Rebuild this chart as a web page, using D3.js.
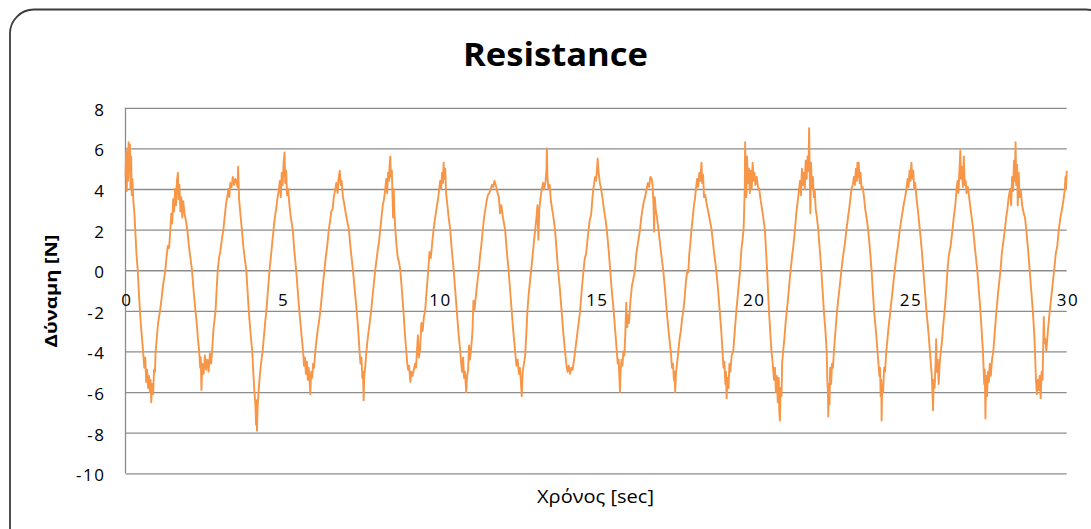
<!DOCTYPE html>
<html>
<head>
<meta charset="utf-8">
<script src="https://cdn.jsdelivr.net/npm/d3@7"></script>
<style>
  html, body { margin: 0; padding: 0; background: #fff; }
  svg { display: block; }
  text { font-family: "Open Sans", "Noto Sans", sans-serif; fill: #000; }
</style>
</head>
<body>
<svg id="chart" width="1091" height="529"></svg>
<script>
// ---- data ----
const chartTitle = "Resistance";
const xTitle = "Χρόνος [sec]";
const yTitle = "Δύναμη [N]";
const xTickValues = [0, 5, 10, 15, 20, 25, 30];
const yTickValues = [-10, -8, -6, -4, -2, 0, 2, 4, 6, 8];
// [time (sec), force (N)]
const forceSamples = [
[0,4.6],[0.02,5.8],[0.04,3.9],[0.06,6.0],[0.08,4.4],[0.10,6.3],[0.12,4.8],[0.14,6.2],[0.16,4.0],[0.18,5.6],[0.20,3.7],[0.22,4.5],[0.25,3.4],[0.28,2.9],[0.31,2.0],[0.35,0.8],[0.39,0.0],[0.43,-1.2],[0.46,-2.0],[0.50,-2.9],[0.53,-3.4],[0.56,-4.0],[0.60,-4.8],[0.63,-4.3],[0.66,-5.5],[0.69,-4.9],[0.72,-5.8],[0.75,-5.2],[0.78,-6.0],[0.80,-5.4],[0.82,-6.5],[0.85,-5.6],[0.88,-6.1],[0.91,-4.9],[0.94,-5.0],[0.96,-4.0],[1.00,-3.3],[1.04,-2.6],[1.08,-2.2],[1.10,-2.0],[1.15,-1.4],[1.20,-0.7],[1.24,-0.3],[1.27,0.0],[1.31,0.7],[1.35,1.2],[1.39,1.1],[1.43,2.0],[1.46,2.8],[1.49,2.3],[1.52,3.5],[1.55,2.9],[1.58,4.0],[1.61,3.2],[1.64,4.4],[1.67,4.8],[1.69,3.5],[1.72,4.2],[1.75,2.9],[1.78,3.6],[1.81,2.6],[1.84,3.4],[1.88,2.8],[1.93,2.4],[1.97,2.0],
[2.02,1.2],[2.07,0.6],[2.12,0.0],[2.17,-1.0],[2.23,-2.0],[2.27,-2.6],[2.31,-3.4],[2.35,-4.0],[2.38,-4.8],[2.40,-4.3],[2.42,-5.9],[2.45,-4.6],[2.49,-5.1],[2.53,-4.2],[2.57,-4.9],[2.61,-4.4],[2.65,-5.0],[2.69,-4.1],[2.73,-4.6],[2.76,-4.0],[2.80,-3.0],[2.84,-2.4],[2.87,-2.0],[2.90,-1.1],[2.94,0.0],[2.98,0.6],[3.02,0.9],[3.07,1.5],[3.12,2.0],[3.16,2.6],[3.20,3.2],[3.24,3.6],[3.28,4.0],[3.31,3.6],[3.34,4.3],[3.38,4.1],[3.42,4.6],[3.46,4.2],[3.50,4.5],[3.54,4.3],[3.57,4.1],[3.59,5.1],[3.62,3.5],[3.66,2.8],[3.71,2.0],[3.76,1.1],[3.80,0.6],[3.85,0.0],[3.89,-1.0],[3.93,-2.0],[3.97,-2.8],
[4.01,-3.5],[4.04,-4.0],[4.08,-5.2],[4.11,-6.0],[4.14,-6.6],[4.16,-7.6],[4.18,-6.4],[4.19,-7.9],[4.21,-6.8],[4.24,-6.0],[4.28,-5.2],[4.32,-4.6],[4.37,-4.0],[4.41,-3.3],[4.45,-2.6],[4.49,-2.0],[4.54,-1.0],[4.59,0.0],[4.63,0.6],[4.68,1.4],[4.72,2.0],[4.76,2.6],[4.80,3.0],[4.84,3.5],[4.89,4.0],[4.92,4.4],[4.95,3.6],[4.98,4.8],[5.01,4.2],[5.04,5.3],[5.07,5.8],[5.09,4.3],[5.12,4.9],[5.15,3.7],[5.18,4.0],[5.22,3.3],[5.27,2.6],[5.33,2.0],[5.38,1.0],[5.44,0.0],[5.49,-1.0],[5.54,-2.0],[5.60,-3.0],[5.66,-4.0],[5.69,-4.7],[5.72,-4.3],[5.75,-5.1],[5.78,-4.5],[5.81,-5.4],[5.84,-4.8],[5.87,-5.5],[5.89,-6.1],[5.92,-5.0],[5.95,-5.3],[5.98,-4.6],
[6.01,-4.8],[6.05,-4.0],[6.09,-3.4],[6.13,-2.9],[6.17,-2.5],[6.21,-2.0],[6.25,-1.4],[6.30,-0.6],[6.34,0.0],[6.38,0.6],[6.43,1.2],[6.48,2.0],[6.52,2.4],[6.56,2.9],[6.60,3.0],[6.64,3.6],[6.69,4.0],[6.72,4.3],[6.76,3.8],[6.79,4.5],[6.83,4.9],[6.86,4.2],[6.89,4.4],[6.93,3.6],[6.97,3.3],[7.02,2.8],[7.07,2.4],[7.12,2.0],[7.18,1.0],[7.25,0.0],[7.31,-1.0],[7.37,-2.0],[7.42,-3.0],[7.46,-4.0],[7.49,-4.6],[7.52,-4.3],[7.55,-5.3],[7.57,-5.0],[7.59,-6.4],[7.61,-5.2],[7.64,-4.8],[7.67,-4.2],[7.71,-3.5],[7.75,-3.0],[7.79,-2.5],[7.83,-2.0],[7.88,-1.2],[7.92,-0.6],[7.96,0.0],
[8.00,0.5],[8.04,1.0],[8.08,1.4],[8.12,2.0],[8.16,2.6],[8.20,3.2],[8.24,3.5],[8.28,4.0],[8.31,4.5],[8.34,3.8],[8.37,4.8],[8.40,4.4],[8.42,5.2],[8.44,5.6],[8.46,4.6],[8.49,4.9],[8.51,3.7],[8.53,2.6],[8.55,4.0],[8.57,2.9],[8.60,2.0],[8.64,1.2],[8.68,0.6],[8.72,0.4],[8.76,0.0],[8.81,-1.0],[8.86,-2.0],[8.90,-3.0],[8.95,-4.0],[8.98,-4.6],[9.01,-4.9],[9.04,-4.7],[9.08,-5.5],[9.11,-5.0],[9.15,-5.2],[9.19,-4.9],[9.23,-4.6],[9.26,-4.8],[9.29,-4.0],[9.32,-3.2],[9.35,-4.3],[9.39,-3.9],[9.43,-2.6],[9.47,-3.0],[9.51,-2.3],[9.55,-2.0],[9.60,-1.0],[9.65,0.0],[9.69,0.9],[9.73,0.6],[9.78,1.4],[9.82,2.0],[9.86,2.5],[9.90,2.9],[9.94,3.3],[9.97,3.6],
[10.00,4.0],[10.03,4.4],[10.06,4.0],[10.09,4.8],[10.12,4.3],[10.14,5.3],[10.16,4.5],[10.19,5.0],[10.22,3.8],[10.26,3.2],[10.30,2.6],[10.35,2.0],[10.40,1.0],[10.46,0.0],[10.51,-1.0],[10.56,-2.0],[10.61,-3.0],[10.67,-4.0],[10.70,-4.6],[10.73,-5.0],[10.76,-4.3],[10.79,-5.3],[10.82,-5.0],[10.86,-6.0],[10.89,-5.2],[10.92,-4.9],[10.95,-3.7],[10.98,-4.4],[11.02,-3.8],[11.06,-3.0],[11.09,-1.5],[11.12,-2.0],[11.16,-1.4],[11.20,-0.8],[11.26,0.0],[11.30,0.7],[11.34,1.2],[11.39,2.0],[11.43,2.6],[11.47,3.0],[11.51,3.4],[11.55,3.7],[11.60,3.8],[11.64,4.0],[11.68,4.2],[11.72,4.1],[11.76,4.4],[11.78,4.3],[11.82,4.1],[11.86,3.8],[11.90,3.6],[11.94,2.8],[11.98,3.2],
[12.03,2.6],[12.10,2.0],[12.15,1.0],[12.21,0.0],[12.26,-1.0],[12.31,-2.0],[12.36,-3.0],[12.42,-4.0],[12.46,-4.7],[12.50,-4.4],[12.54,-5.1],[12.57,-4.8],[12.60,-5.4],[12.63,-6.2],[12.66,-5.0],[12.70,-4.6],[12.74,-4.2],[12.78,-3.0],[12.81,-2.0],[12.85,-1.2],[12.89,-0.6],[12.93,0.0],[12.97,0.6],[13.01,1.3],[13.06,2.0],[13.10,2.6],[13.13,3.2],[13.16,1.5],[13.19,3.0],[13.23,3.6],[13.27,4.0],[13.31,4.3],[13.35,4.0],[13.39,4.4],[13.42,5.0],[13.43,6.0],[13.45,4.6],[13.48,4.0],[13.52,4.2],[13.56,3.4],[13.60,3.0],[13.64,2.6],[13.69,2.0],[13.74,1.0],[13.79,0.0],[13.85,-1.0],[13.90,-2.0],[13.95,-3.0],
[14.01,-4.0],[14.05,-4.6],[14.09,-5.0],[14.13,-4.7],[14.17,-5.1],[14.21,-4.8],[14.25,-4.9],[14.29,-4.5],[14.33,-4.0],[14.37,-3.5],[14.41,-3.0],[14.45,-2.5],[14.49,-2.0],[14.54,-1.0],[14.60,0.0],[14.64,0.6],[14.68,0.8],[14.72,1.4],[14.76,2.0],[14.80,2.5],[14.84,2.7],[14.88,3.5],[14.91,4.0],[14.94,4.3],[14.97,4.6],[15.00,4.4],[15.03,5.0],[15.05,5.5],[15.08,4.8],[15.12,4.3],[15.16,4.0],[15.20,3.6],[15.25,3.0],[15.30,2.5],[15.34,2.0],[15.40,1.0],[15.45,0.0],[15.50,-1.0],[15.56,-2.0],[15.61,-3.0],[15.66,-4.0],[15.69,-4.6],[15.72,-4.4],[15.74,-5.2],[15.76,-6.0],[15.78,-5.0],[15.81,-4.4],[15.84,-4.7],[15.87,-4.0],[15.90,-4.2],[15.93,-3.2],[15.96,-1.6],[15.99,-2.8],
[16.02,-2.2],[16.05,-2.6],[16.09,-1.6],[16.14,-0.8],[16.19,-0.4],[16.24,0.0],[16.28,0.8],[16.32,1.2],[16.36,1.6],[16.40,2.0],[16.44,2.6],[16.48,3.0],[16.52,3.4],[16.56,3.6],[16.61,4.0],[16.65,4.3],[16.69,4.1],[16.73,4.6],[16.77,4.5],[16.80,4.2],[16.83,3.2],[16.85,1.9],[16.87,3.6],[16.90,3.0],[16.94,2.6],[16.99,2.0],[17.06,1.0],[17.14,0.0],[17.20,-1.0],[17.25,-2.0],[17.31,-3.0],[17.38,-4.0],[17.42,-4.8],[17.45,-4.6],[17.48,-5.4],[17.50,-5.0],[17.52,-6.0],[17.55,-5.0],[17.58,-4.6],[17.62,-4.0],[17.66,-3.4],[17.70,-3.0],[17.74,-2.4],[17.78,-2.0],[17.82,-1.4],[17.86,-0.6],[17.91,0.0],[17.94,-0.1],[17.97,0.8],
[18.01,1.4],[18.04,2.0],[18.08,2.6],[18.12,3.2],[18.15,3.5],[18.18,4.0],[18.22,4.5],[18.25,4.1],[18.29,4.8],[18.32,4.4],[18.36,5.3],[18.38,4.3],[18.41,4.7],[18.44,3.6],[18.48,3.7],[18.52,3.3],[18.56,3.0],[18.61,2.6],[18.68,2.0],[18.75,1.0],[18.83,0.0],[18.89,-1.0],[18.94,-2.0],[18.99,-3.0],[19.03,-4.0],[19.06,-4.8],[19.09,-4.5],[19.12,-5.6],[19.14,-5.0],[19.16,-6.3],[19.19,-5.3],[19.22,-5.8],[19.25,-4.6],[19.28,-5.0],[19.32,-4.2],[19.37,-4.0],[19.42,-3.0],[19.47,-2.0],[19.53,-1.0],[19.59,0.0],[19.63,1.0],[19.66,1.4],[19.70,2.0],[19.72,3.0],[19.74,4.2],[19.75,6.3],[19.77,4.5],[19.79,3.6],[19.81,5.6],[19.84,4.3],[19.87,5.0],[19.90,3.8],[19.93,4.9],[19.96,4.0],[19.99,5.3],
[20.02,4.4],[20.05,4.8],[20.08,4.2],[20.12,4.6],[20.16,4.1],[20.20,4.0],[20.25,3.4],[20.31,2.8],[20.38,2.0],[20.45,0.0],[20.51,-2.0],[20.55,-3.0],[20.59,-4.0],[20.63,-4.6],[20.67,-5.4],[20.70,-4.8],[20.73,-6.0],[20.76,-5.2],[20.79,-6.5],[20.82,-5.3],[20.84,-7.0],[20.86,-7.4],[20.88,-5.8],[20.91,-6.2],[20.93,-4.6],[20.96,-4.0],[21.00,-3.4],[21.04,-2.6],[21.08,-2.0],[21.14,-1.0],[21.20,0.0],[21.24,0.6],[21.28,1.1],[21.34,2.0],[21.38,2.8],[21.42,3.3],[21.47,4.0],[21.50,4.4],[21.53,3.7],[21.56,5.0],[21.59,4.2],[21.62,4.8],[21.65,4.0],[21.68,5.4],[21.71,4.5],[21.74,5.6],[21.77,4.9],[21.79,7.0],[21.81,4.6],[21.83,2.8],[21.85,5.3],[21.88,4.0],[21.91,4.6],[21.94,3.6],[21.97,3.9],
[22.00,3.0],[22.04,2.6],[22.08,2.0],[22.13,1.0],[22.18,0.0],[22.22,-1.0],[22.26,-2.0],[22.31,-3.0],[22.35,-4.0],[22.37,-5.4],[22.39,-6.0],[22.40,-7.2],[22.42,-5.6],[22.44,-6.6],[22.46,-4.8],[22.49,-5.6],[22.52,-4.6],[22.55,-4.8],[22.58,-4.0],[22.62,-3.2],[22.68,-2.0],[22.75,-1.0],[22.82,0.0],[22.87,0.7],[22.92,1.2],[22.98,2.0],[23.03,2.6],[23.08,3.2],[23.14,4.0],[23.18,4.2],[23.22,4.6],[23.25,4.2],[23.28,5.0],[23.31,4.4],[23.33,5.3],[23.35,4.6],[23.37,5.3],[23.40,4.3],[23.43,4.8],[23.46,4.0],[23.50,4.1],[23.54,3.6],[23.58,3.0],[23.62,2.6],[23.67,2.0],[23.73,1.0],[23.78,0.0],[23.82,-1.0],[23.86,-2.0],[23.92,-3.0],[23.97,-4.0],
[24.00,-4.6],[24.03,-5.2],[24.05,-4.8],[24.07,-6.2],[24.09,-5.4],[24.10,-7.4],[24.12,-5.6],[24.15,-6.0],[24.18,-4.8],[24.21,-5.0],[24.25,-4.0],[24.31,-3.0],[24.38,-2.0],[24.45,-1.0],[24.52,0.0],[24.57,0.7],[24.62,1.2],[24.68,2.0],[24.74,2.6],[24.80,3.2],[24.85,3.6],[24.89,4.0],[24.93,4.5],[24.96,4.1],[24.99,4.9],[25.02,4.4],[25.05,5.3],[25.08,4.5],[25.11,4.9],[25.14,4.0],[25.17,4.3],[25.21,3.6],[25.26,2.9],[25.32,2.0],[25.38,1.0],[25.43,0.0],[25.48,-1.0],[25.53,-2.0],[25.59,-3.0],[25.64,-4.0],[25.67,-4.6],[25.70,-5.2],[25.72,-6.0],[25.74,-6.9],[25.76,-5.4],[25.79,-5.8],[25.82,-4.6],[25.84,-3.4],[25.86,-5.0],[25.89,-4.4],[25.92,-5.6],[25.95,-4.6],[25.99,-4.0],
[26.03,-3.4],[26.07,-2.6],[26.11,-2.0],[26.16,-1.0],[26.20,0.0],[26.24,0.7],[26.30,1.2],[26.36,2.0],[26.40,2.6],[26.45,3.2],[26.49,4.0],[26.52,4.4],[26.55,3.8],[26.58,4.9],[26.61,5.9],[26.63,4.5],[26.66,5.1],[26.69,4.1],[26.72,5.6],[26.75,4.2],[26.78,4.4],[26.81,3.8],[26.85,4.1],[26.89,3.6],[26.93,3.1],[26.97,2.6],[27.02,2.0],[27.08,1.0],[27.15,0.0],[27.20,-1.0],[27.25,-2.0],[27.29,-3.0],[27.33,-4.0],[27.35,-4.8],[27.37,-5.6],[27.39,-4.9],[27.41,-7.3],[27.43,-5.2],[27.46,-6.2],[27.49,-5.0],[27.52,-5.5],[27.55,-4.6],[27.58,-5.2],[27.62,-4.4],[27.66,-4.0],[27.71,-3.0],[27.76,-2.0],[27.82,-1.0],[27.89,0.0],[27.93,0.8],[27.98,1.4],
[28.03,2.0],[28.07,2.6],[28.11,3.0],[28.15,3.6],[28.20,4.0],[28.23,3.2],[28.26,4.6],[28.29,3.9],[28.32,5.4],[28.35,4.4],[28.37,6.3],[28.39,4.2],[28.42,5.2],[28.44,3.2],[28.47,4.8],[28.50,3.6],[28.54,3.9],[28.58,3.2],[28.63,2.8],[28.67,2.6],[28.71,2.0],[28.77,1.0],[28.82,0.0],[28.87,-1.0],[28.92,-2.0],[28.96,-3.0],[28.99,-4.0],[29.02,-5.4],[29.05,-6.1],[29.08,-5.4],[29.11,-5.9],[29.14,-5.2],[29.17,-6.3],[29.20,-5.0],[29.23,-5.4],[29.25,-3.8],[29.27,-2.3],[29.29,-3.6],[29.32,-3.4],[29.35,-4.0],[29.40,-3.0],[29.46,-2.0],[29.53,-1.0],[29.60,0.0],[29.65,0.8],[29.70,1.2],[29.75,2.0],[29.80,2.6],[29.85,3.0],[29.90,3.5],[29.94,4.0],[29.96,4.6],[29.98,4.0],[30.00,4.9]
];

// ---- drawing ----
const svg = d3.select("#chart");
const plotLeft = 125.5, plotRight = 1066.7, plotTop = 107.8, plotBottom = 473.3;

const x = d3.scaleLinear().domain([0, 30]).range([plotLeft, plotRight]);
const y = d3.scaleLinear().domain([-10, 8]).range([plotBottom, plotTop]);
const plainNumber = d => String(d); // hyphen-minus like the reference

// outer rounded frame (extends past the right/bottom of the view)
svg.append("rect")
  .attr("x", 10).attr("y", 9.5)
  .attr("width", 1100).attr("height", 545)
  .attr("rx", 24).attr("ry", 24)
  .attr("fill", "#fff")
  .attr("stroke", "#3c3c3c")
  .attr("stroke-width", 1.8);

// title
svg.append("text")
  .attr("x", 555.5).attr("y", 66)
  .attr("text-anchor", "middle")
  .attr("font-size", 33).attr("font-weight", 700)
  .attr("textLength", 185).attr("lengthAdjust", "spacingAndGlyphs")
  .text(chartTitle);

// horizontal gridlines
const grid = svg.append("g")
  .attr("transform", `translate(${plotLeft},0)`)
  .call(d3.axisLeft(y).tickValues(yTickValues).tickSize(-(plotRight - plotLeft)).tickFormat(""));
grid.select(".domain").remove();
grid.selectAll(".tick line").attr("stroke", "#8c8c8c").attr("stroke-width", 1.3);

// y axis line
svg.append("line")
  .attr("x1", plotLeft).attr("x2", plotLeft)
  .attr("y1", y(8)).attr("y2", y(-10))
  .attr("stroke", "#8c8c8c").attr("stroke-width", 1.3);

// y tick labels
const yAxis = svg.append("g")
  .attr("transform", `translate(${plotLeft},0)`)
  .call(d3.axisLeft(y).tickValues(yTickValues).tickSize(0).tickFormat(plainNumber));
yAxis.select(".domain").remove();
yAxis.selectAll(".tick text")
  .attr("x", 105.5 - plotLeft)
  .attr("dy", null)
  .attr("y", 7.5)
  .attr("text-anchor", "end")
  .attr("font-size", 17)
  .attr("letter-spacing", 1.5)
  .style("font-family", '"Open Sans", sans-serif')
  .attr("fill", "#000");

// x axis tick labels (axis crosses at y = 0)
const xAxis = svg.append("g")
  .attr("transform", `translate(0,${y(0)})`)
  .call(d3.axisBottom(x).tickValues(xTickValues).tickSize(0).tickFormat(plainNumber));
xAxis.select(".domain").remove();
xAxis.selectAll(".tick text")
  .attr("dy", null)
  .attr("y", 306.5 - y(0))
  .attr("x", 0.75)
  .attr("text-anchor", "middle")
  .attr("font-size", 17)
  .attr("letter-spacing", 1.5)
  .style("font-family", '"Open Sans", sans-serif')
  .attr("fill", "#000");

// data line
const line = d3.line()
  .x(d => x(d[0]))
  .y(d => y(d[1]));
svg.append("path")
  .datum(forceSamples)
  .attr("d", line)
  .attr("fill", "none")
  .attr("stroke", "#F79646")
  .attr("stroke-width", 1.9)
  .attr("stroke-linejoin", "round");

// axis titles
svg.append("text")
  .attr("x", 595.5).attr("y", 503)
  .attr("text-anchor", "middle")
  .attr("font-size", 19)
  .attr("textLength", 117).attr("lengthAdjust", "spacingAndGlyphs")
  .text(xTitle);

svg.append("text")
  .attr("transform", "translate(57,291) rotate(-90)")
  .attr("text-anchor", "middle")
  .attr("font-size", 16).attr("font-weight", 700)
  .attr("textLength", 113).attr("lengthAdjust", "spacingAndGlyphs")
  .text(yTitle);
</script>
</body>
</html>
